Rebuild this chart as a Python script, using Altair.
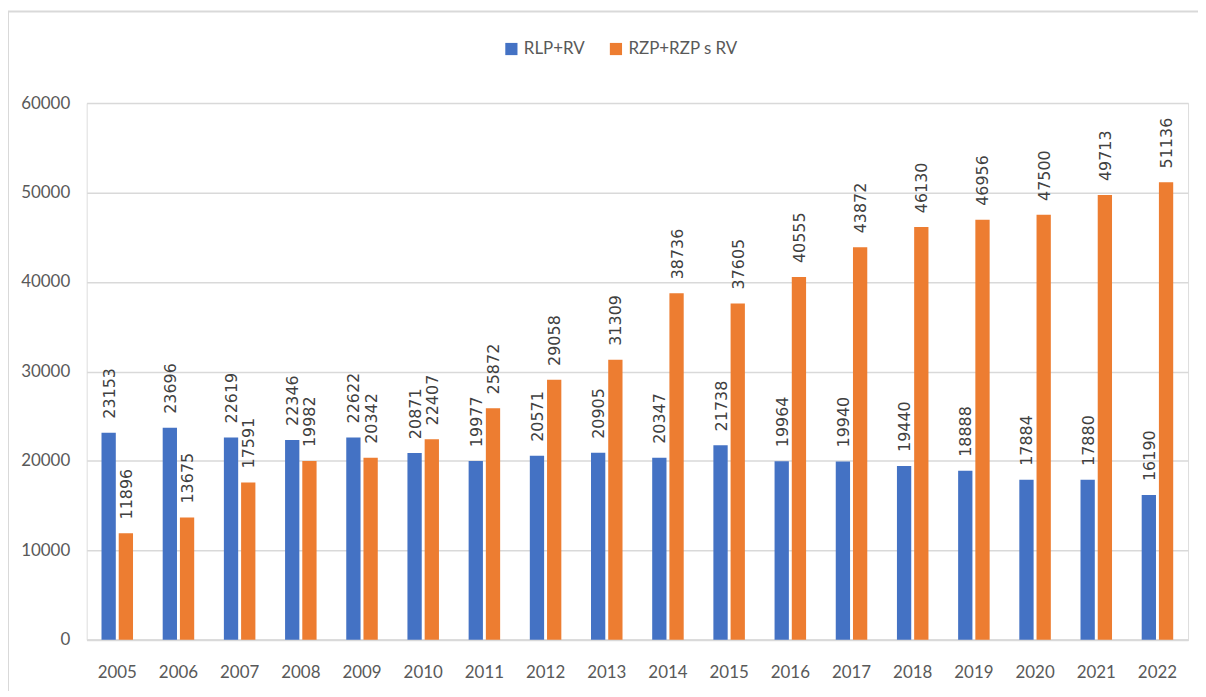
import altair as alt
import pandas as pd

years = [str(y) for y in range(2005, 2023)]
series_names = ["RLP+RV", "RZP+RZP s RV"]
rlp_rv = [23153, 23696, 22619, 22346, 22622, 20871, 19977, 20571, 20905,
          20347, 21738, 19964, 19940, 19440, 18888, 17884, 17880, 16190]
rzp_rv = [11896, 13675, 17591, 19982, 20342, 22407, 25872, 29058, 31309,
          38736, 37605, 40555, 43872, 46130, 46956, 47500, 49713, 51136]
colors = ["#4472C4", "#ED7D31"]
y_ticks = [0, 10000, 20000, 30000, 40000, 50000, 60000]

rows = []
for i, yr in enumerate(years):
    rows.append({"year": yr, "series": series_names[0], "value": rlp_rv[i]})
    rows.append({"year": yr, "series": series_names[1], "value": rzp_rv[i]})
df = pd.DataFrame(rows)

W, H = 1106, 539

x_scale = alt.Scale(paddingInner=0.485, paddingOuter=0.2425)
x_enc = alt.X("year:N", title=None, sort=years, scale=x_scale,
              axis=alt.Axis(labelAngle=0, ticks=False, domain=True,
                            domainColor="#D9D9D9", domainWidth=2,
                            labelFont="Lato", labelFontSize=17,
                            labelColor="#595959", labelPadding=25))
xoff = alt.XOffset("series:N", sort=series_names,
                   scale=alt.Scale(paddingInner=0.17))
y_enc = alt.Y("value:Q", title=None,
              scale=alt.Scale(domain=[0, 60000], nice=False),
              axis=alt.Axis(values=y_ticks, ticks=False, domain=False,
                            grid=True, gridColor="#D9D9D9", gridWidth=1.5,
                            labelFont="Lato", labelFontSize=17,
                            labelColor="#595959", labelPadding=17,
                            format="d"))
color_enc = alt.Color("series:N", sort=series_names, title=None,
                      scale=alt.Scale(domain=series_names, range=colors),
                      legend=alt.Legend(orient="none", direction="horizontal",
                                        legendX=418, legendY=-63,
                                        symbolType="square", symbolSize=150,
                                        symbolStrokeWidth=0,
                                        labelFont="Lato", labelFontSize=17,
                                        labelColor="#595959", columnPadding=22,
                                        symbolOffset=0))

base = alt.Chart(df)

bars = base.mark_bar().encode(x=x_enc, xOffset=xoff, y=y_enc, color=color_enc)

labels = base.mark_text(angle=270, align="left", baseline="middle", dx=14,
                        dy=1, font="DejaVu Sans", fontSize=16,
                        color="#404040").encode(
    x=alt.X("year:N", sort=years, scale=x_scale),
    xOffset=xoff,
    y=alt.Y("value:Q"),
    text=alt.Text("value:Q", format="d"),
)

border_left = alt.Chart(pd.DataFrame({"k": [0]})).mark_rule(
    color="#D9D9D9", strokeWidth=2, clip=False).encode(
    x=alt.value(-79), y=alt.value(-92), y2=alt.value(620))
border_top = alt.Chart(pd.DataFrame({"k": [0]})).mark_rule(
    color="#D9D9D9", strokeWidth=2, clip=False).encode(
    x=alt.value(-79), x2=alt.value(1130), y=alt.value(-92))

chart = alt.layer(border_left, border_top, bars, labels).properties(
    width=W, height=H,
    autosize=alt.AutoSizeParams(type="none"),
    padding={"left": 79, "top": 94, "right": 10, "bottom": 50},
).configure_view(stroke=None).configure(background="white")

chart.save("out.html", embed_options={"renderer": "svg", "actions": False})
